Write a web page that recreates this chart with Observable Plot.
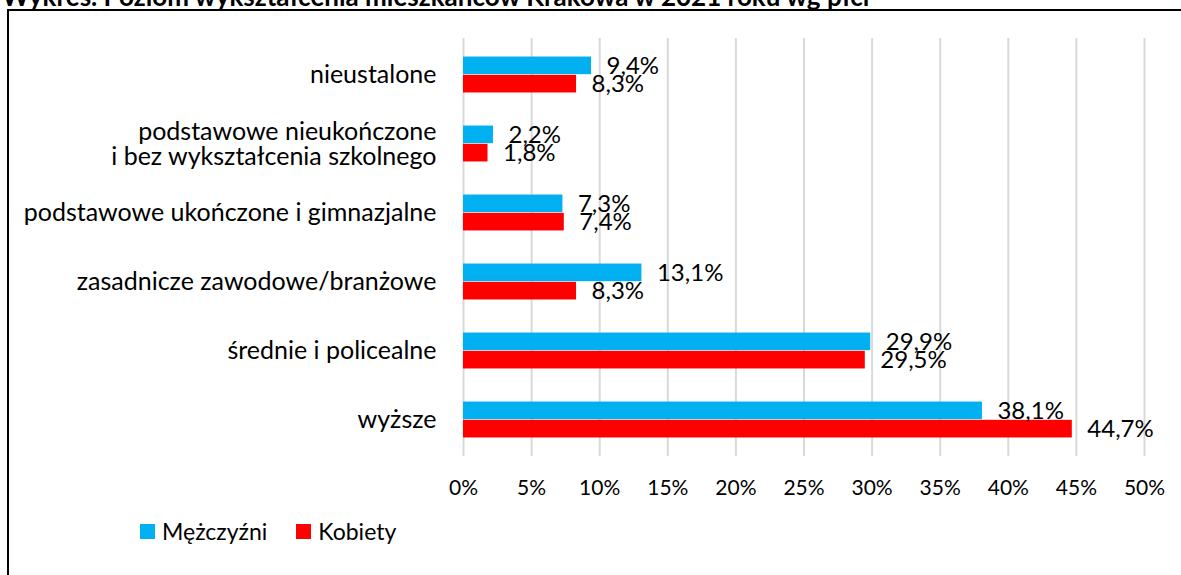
<!DOCTYPE html>
<html>
<head>
<meta charset="utf-8">
<script src="https://cdn.jsdelivr.net/npm/d3@7"></script>
<script src="https://cdn.jsdelivr.net/npm/@observablehq/plot@0.6"></script>
<style>
  html, body { margin: 0; padding: 0; background: #fff; overflow: hidden; }
  body { width: 1181px; height: 575px; position: relative; font-family: Lato, "Noto Sans", sans-serif; }
  #title { position: absolute; left: 2px; top: -17px; font-weight: bold; font-size: 26px; line-height: 26px; white-space: nowrap; color: #000; }
  #frame { position: absolute; left: 7px; top: 9px; width: 1300px; height: 700px; border: 2px solid #000; box-sizing: border-box; }
  #chart { position: absolute; left: 0; top: 0; }
  #legend { position: absolute; left: 140px; top: 517px; display: flex; align-items: center; font-size: 23px; color: #000; }
  #legend .item { display: flex; align-items: center; margin-right: 29px; }
  #legend .sw { width: 15px; height: 15px; margin-right: 7px; }
</style>
</head>
<body>
<div id="title">Wykres. Poziom wykształcenia mieszkańców Krakowa w 2021 roku wg płci</div>
<div id="frame"></div>
<div id="chart"></div>
<div id="legend"></div>
<script>
const categories = [
  "nieustalone",
  "podstawowe nieukończone\ni bez wykształcenia szkolnego",
  "podstawowe ukończone i gimnazjalne",
  "zasadnicze zawodowe/branżowe",
  "średnie i policealne",
  "wyższe"
];
const men = [9.4, 2.2, 7.3, 13.1, 29.9, 38.1];
const women = [8.3, 1.8, 7.4, 8.3, 29.5, 44.7];
const series = ["Mężczyźni", "Kobiety"];
const colors = ["#00b0f0", "#ff0000"];
const xTicks = [0, 5, 10, 15, 20, 25, 30, 35, 40, 45, 50];

const fmt = v => v.toFixed(1).replace(".", ",") + "%";
const menData = categories.map((c, i) => ({category: c, value: men[i]}));
const womenData = categories.map((c, i) => ({category: c, value: women[i]}));

const H = 575, mTop = 38, mBottom = 119;
const step = (H - mTop - mBottom) / categories.length;
const barH = 18.3;
const chart = Plot.plot({
  width: 1181,
  height: H,
  marginLeft: 463,
  marginRight: 37,
  marginTop: mTop,
  marginBottom: mBottom,
  style: {fontFamily: "Lato, 'Noto Sans', sans-serif", background: "transparent"},
  x: {domain: [0, 50], ticks: xTicks, tickFormat: d => d + "%", label: null, tickSize: 0, tickPadding: 24},
  y: {domain: categories, padding: 0, label: null, tickSize: 0, tickPadding: 27},
  marks: [
    Plot.ruleX(xTicks, {stroke: "#d9d9d9", strokeWidth: 2}),
    Plot.barX(menData, {x: "value", y: "category", fill: colors[0], insetTop: step/2 - barH, insetBottom: step/2}),
    Plot.barX(womenData, {x: "value", y: "category", fill: colors[1], insetTop: step/2, insetBottom: step/2 - barH}),
    Plot.text(menData, {x: "value", y: "category", text: d => fmt(d.value), dy: -barH/2, dx: 15, textAnchor: "start", fontSize: 24, fill: "#000"}),
    Plot.text(womenData, {x: "value", y: "category", text: d => fmt(d.value), dy: barH/2, dx: 15, textAnchor: "start", fontSize: 24, fill: "#000"})
  ]
});
chart.querySelectorAll("g[aria-label='y-axis tick label']").forEach(n => { n.setAttribute("font-size", 25); });
chart.querySelectorAll("g[aria-label='x-axis tick label']").forEach(n => { n.setAttribute("font-size", 21); });
document.getElementById("chart").appendChild(chart);

const legend = document.getElementById("legend");
series.forEach((s, i) => {
  const it = document.createElement("div");
  it.className = "item";
  const sw = document.createElement("div");
  sw.className = "sw";
  sw.style.background = colors[i];
  const tx = document.createElement("span");
  tx.textContent = s;
  it.appendChild(sw); it.appendChild(tx);
  legend.appendChild(it);
});
</script>
</body>
</html>
